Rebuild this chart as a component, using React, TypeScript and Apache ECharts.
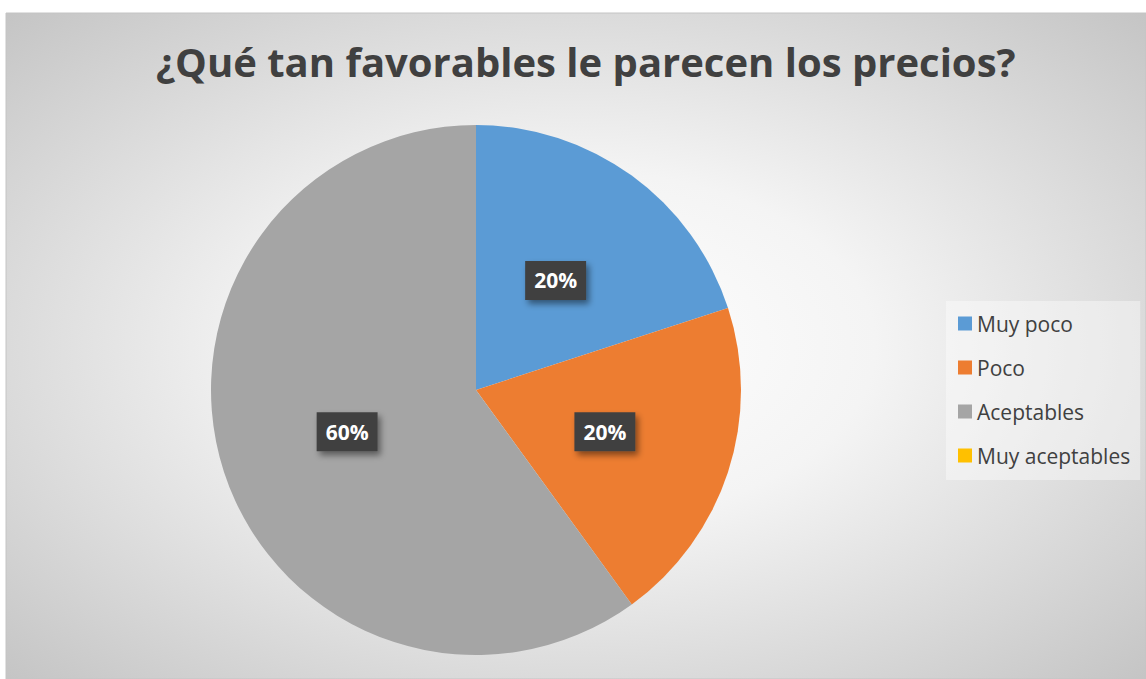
import React, { useEffect, useRef } from "react";
import * as echarts from "echarts";

const titleText = "¿Qué tan favorables le parecen los precios?";
const categories = ["Muy poco", "Poco", "Aceptables", "Muy aceptables"];
const values = [20, 20, 60, 0];
const colors = ["#5B9BD5", "#ED7D31", "#A5A5A5", "#FFC000"];

export default function App() {
  const ref = useRef<HTMLDivElement>(null);
  useEffect(() => {
    document.body.style.margin = "0";
    const chart = echarts.init(ref.current!, null, { renderer: "svg" });
    const total = values.reduce((a, b) => a + b, 0);
    chart.setOption({
      animation: false,
      color: colors,
      graphic: [
        {
          type: "rect",
          z: -10,
          silent: true,
          shape: { x: 6, y: 13, width: 1140, height: 666 },
          style: {
            fill: {
              type: "radial",
              x: 0.5,
              y: 0.5,
              r: 0.75,
              colorStops: [
                { offset: 0, color: "#ffffff" },
                { offset: 0.35, color: "#f4f4f4" },
                { offset: 1, color: "#c0c0c0" },
              ],
            },
            stroke: "#c4c4c4",
            lineWidth: 1,
          },
        },
      ],
      title: {
        text: titleText,
        left: 151,
        top: 36,
        textStyle: {
          fontFamily: "Open Sans",
          fontWeight: "bold",
          fontSize: 40,
          color: "#404040",
        },
      },
      legend: {
        orient: "vertical",
        left: 946,
        top: 301,
        padding: [12, 10, 14, 12],
        backgroundColor: "rgba(255,255,255,0.4)",
        itemWidth: 14,
        itemHeight: 14,
        itemGap: 23,
        icon: "rect",
        textStyle: { fontFamily: "Open Sans", fontSize: 21, color: "#404040" },
        data: categories,
      },
      series: [
        {
          type: "pie",
          center: [476, 390],
          radius: 265,
          startAngle: 90,
          clockwise: true,
          avoidLabelOverlap: false,
          labelLine: { show: false },
          label: {
            position: "inside",
            formatter: (p: any) => Math.round((p.value / total) * 100) + "%",
            color: "#ffffff",
            fontFamily: "Open Sans",
            fontWeight: "bold",
            fontSize: 21,
            backgroundColor: "#404040",
            padding: [10, 9, 8, 9],
            shadowColor: "rgba(0,0,0,0.45)",
            shadowBlur: 6,
            shadowOffsetX: 3,
            shadowOffsetY: 4,
          },
          data: categories.map((name, i) => ({
            name,
            value: values[i],
            label: { show: values[i] > 0 },
          })),
        },
      ],
    });
    return () => chart.dispose();
  }, []);
  return <div ref={ref} style={{ width: 1146, height: 679 }} />;
}
